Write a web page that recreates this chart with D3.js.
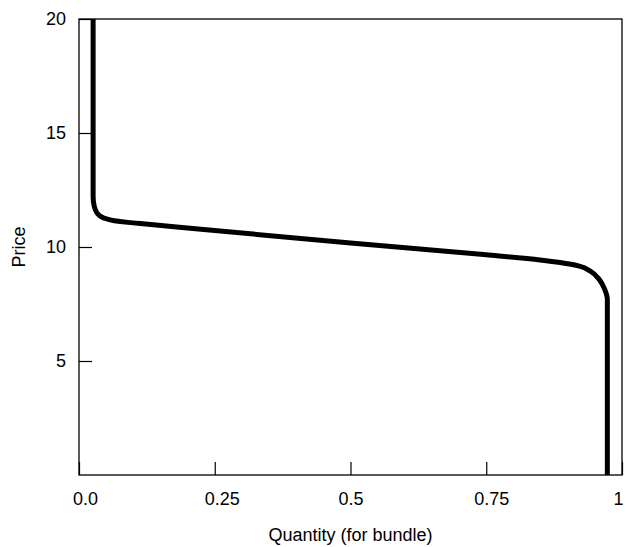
<!DOCTYPE html>
<html>
<head>
<meta charset="utf-8">
<script src="https://cdn.jsdelivr.net/npm/d3@7"></script>
<style>
	body { margin: 0; background: #fff; }
	svg text { font-family: 'Liberation Sans', Arial, sans-serif; fill: #000; }
</style>
</head>
<body>
<div id="chart"></div>
<script>
// demand curve for the bundle
const quantity = [0.026, 0.026, 0.028, 0.033, 0.045, 0.065, 0.090, 0.113, 0.250, 0.500, 0.750, 0.849, 0.886, 0.923, 0.941, 0.959, 0.968, 0.973, 0.973];
const price = [20, 12.2, 11.8, 11.5, 11.28, 11.15, 11.08, 11.03, 10.72, 10.18, 9.66, 9.43, 9.32, 9.15, 8.95, 8.55, 8.15, 7.7, 0];

const xTicks = [0, 0.25, 0.5, 0.75, 1];
const xTickLabels = ['0.0', '0.25', '0.5', '0.75', '1'];
const yTicks = [5, 10, 15, 20];
const yTickLabels = ['5', '10', '15', '20'];

const width = 626;
const height = 547;
const margin = { top: 19, right: 4, bottom: 72, left: 79 };

const svg = d3.select('#chart').append('svg').attr('width', width).attr('height', height);

const x = d3.scaleLinear().domain([0, 1]).range([margin.left, width - margin.right]);
const y = d3.scaleLinear().domain([0, 20]).range([height - margin.bottom, margin.top]);

// frame
svg
	.append('rect')
	.attr('x', x(0))
	.attr('y', y(20))
	.attr('width', x(1) - x(0))
	.attr('height', y(0) - y(20))
	.attr('fill', 'none')
	.attr('stroke', '#000')
	.attr('stroke-width', 1.3);

const xAxis = svg
	.append('g')
	.attr('transform', `translate(0,${y(0)})`)
	.call(
		d3.axisBottom(x)
			.tickValues(xTicks)
			.tickFormat((d, i) => xTickLabels[i])
			.tickSizeInner(-13)
			.tickSizeOuter(0)
			.tickPadding(17)
	);
xAxis.select('.domain').remove();
xAxis.selectAll('line').attr('stroke-width', 1.2);
// labels sit a little right of their ticks in the original; the last one hugs the frame
const labelShift = [6, 7, 0, 5, 1];
xAxis
	.selectAll('text')
	.attr('font-size', 18)
	.attr('font-family', null)
	.attr('dx', (d, i) => labelShift[i])
	.attr('text-anchor', (d, i) => (i === xTicks.length - 1 ? 'end' : 'middle'));

const yAxis = svg
	.append('g')
	.attr('transform', `translate(${x(0)},0)`)
	.call(
		d3.axisLeft(y)
			.tickValues(yTicks)
			.tickFormat((d, i) => yTickLabels[i])
			.tickSizeInner(-13)
			.tickSizeOuter(0)
			.tickPadding(13)
	);
yAxis.select('.domain').remove();
yAxis.selectAll('line').attr('stroke-width', 1.2);
yAxis.selectAll('text').attr('font-size', 18).attr('font-family', null);

// axis titles
svg
	.append('text')
	.attr('x', x(0.5))
	.attr('y', 541)
	.attr('text-anchor', 'middle')
	.attr('font-size', 18)
	.text('Quantity (for bundle)');

svg
	.append('text')
	.attr('transform', `translate(25,${y(10)}) rotate(-90)`)
	.attr('text-anchor', 'middle')
	.attr('font-size', 18)
	.text('Price');

// the curve
const line = d3
	.line()
	.x((d, i) => x(quantity[i]))
	.y((d) => y(d))
	.curve(d3.curveMonotoneY);

svg
	.append('path')
	.datum(price)
	.attr('d', line)
	.attr('fill', 'none')
	.attr('stroke', '#000')
	.attr('stroke-width', 5);
</script>
</body>
</html>
